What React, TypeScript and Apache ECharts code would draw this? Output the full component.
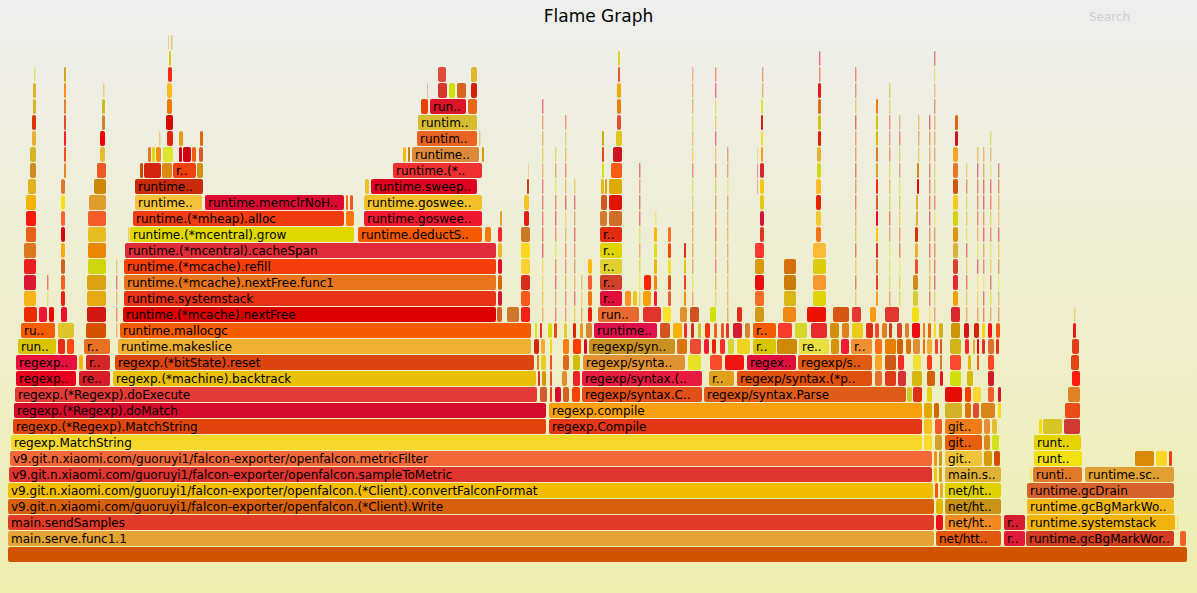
import React, { useEffect, useRef } from 'react';
import * as echarts from 'echarts';

type Frame = [number, number, number, string];
type Minor = [number, number, number];
type Tower = [number, number, number, number];

// total samples and stack depth
const TOTAL_SAMPLES = 1180;
const MAX_DEPTH = 33;
const MINOR_NAME = 'runtime.memmove';

// labeled frames: [depth, startSample, endSample, function]
const frames: Frame[] = [
  [0, 0, 1180, ''],
  [1, 0, 927, 'main.serve.func1.1'],
  [1, 928, 994, 'net/http.(*conn).serve'],
  [1, 996, 1018, 'runtime.mcall'],
  [1, 1018, 1167, 'runtime.gcBgMarkWorker'],
  [2, 0, 927, 'main.sendSamples'],
  [2, 937, 994, 'net/http.serverHandler.ServeHTTP'],
  [2, 996, 1018, 'runtime.park_m'],
  [2, 1019, 1168, 'runtime.systemstack'],
  [3, 0, 927, 'v9.git.n.xiaomi.com/guoruyi1/falcon-exporter/openfalcon.(*Client).Write'],
  [3, 937, 994, 'net/http.(*ServeMux).ServeHTTP'],
  [3, 1019, 1167, 'runtime.gcBgMarkWorker.func2'],
  [4, 0, 926, 'v9.git.n.xiaomi.com/guoruyi1/falcon-exporter/openfalcon.(*Client).convertFalconFormat'],
  [4, 937, 994, 'net/http.HandlerFunc.ServeHTTP'],
  [4, 1019, 1167, 'runtime.gcDrain'],
  [5, 1, 925, 'v9.git.n.xiaomi.com/guoruyi1/falcon-exporter/openfalcon.sampleToMetric'],
  [5, 937, 994, 'main.serveMetrics'],
  [5, 1025, 1075, 'runtime.markroot'],
  [5, 1077, 1167, 'runtime.scanobject'],
  [6, 2, 925, 'v9.git.n.xiaomi.com/guoruyi1/falcon-exporter/openfalcon.metricFilter'],
  [6, 937, 975, 'git.n.xiaomi.com/prometheus/client_golang/prometheus.(*Registry).Gather'],
  [6, 1026, 1075, 'runtime.markroot.func1'],
  [7, 3, 915, 'regexp.MatchString'],
  [7, 937, 975, 'git.n.xiaomi.com/prometheus/client_golang/prometheus.(*Registry).Gather.func1'],
  [7, 1026, 1074, 'runtime.scanstack'],
  [8, 5, 539, 'regexp.(*Regexp).MatchString'],
  [8, 541, 915, 'regexp.Compile'],
  [8, 937, 975, 'git.n.xiaomi.com/prometheus/client_golang/prometheus.processMetric'],
  [9, 6, 539, 'regexp.(*Regexp).doMatch'],
  [9, 541, 915, 'regexp.compile'],
  [10, 7, 530, 'regexp.(*Regexp).doExecute'],
  [10, 574, 695, 'regexp/syntax.Compile'],
  [10, 696, 899, 'regexp/syntax.Parse'],
  [11, 8, 69, 'regexp.(*Regexp).backtrack'],
  [11, 71, 103, 'regexp.(*Regexp).get'],
  [11, 105, 529, 'regexp.(*machine).backtrack'],
  [11, 574, 695, 'regexp/syntax.(*compiler).compile'],
  [11, 701, 727, 'regexp/syntax.(*parser).op'],
  [11, 729, 865, 'regexp/syntax.(*parser).push'],
  [12, 8, 70, 'regexp.(*bitState).push'],
  [12, 78, 103, 'runtime.makeslice'],
  [12, 107, 527, 'regexp.(*bitState).reset'],
  [12, 575, 678, 'regexp/syntax.(*compiler).init'],
  [12, 739, 789, 'regexp.onePassCopy'],
  [12, 790, 865, 'regexp/syntax.(*parser).maybeConcat'],
  [13, 10, 49, 'runtime.growslice'],
  [13, 76, 103, 'runtime.newobject'],
  [13, 110, 524, 'runtime.makeslice'],
  [13, 581, 668, 'regexp/syntax.(*compiler).inst'],
  [13, 745, 769, 'runtime.growslice'],
  [13, 791, 822, 'regexp/syntax.(*parser).newRegexp'],
  [13, 843, 865, 'runtime.convT2E'],
  [14, 13, 48, 'runtime.mallocgc'],
  [14, 112, 524, 'runtime.mallocgc'],
  [14, 586, 650, 'runtime.growslice'],
  [14, 745, 769, 'runtime.mallocgc'],
  [15, 115, 489, 'runtime.(*mcache).nextFree'],
  [15, 590, 632, 'runtime.mallocgc'],
  [16, 116, 489, 'runtime.systemstack'],
  [16, 592, 615, 'runtime.(*mcache).nextFree'],
  [17, 116, 489, 'runtime.(*mcache).nextFree.func1'],
  [17, 592, 615, 'runtime.systemstack'],
  [18, 116, 489, 'runtime.(*mcache).refill'],
  [18, 592, 615, 'runtime.(*mcache).nextFree.func1'],
  [19, 117, 489, 'runtime.(*mcentral).cacheSpan'],
  [19, 592, 615, 'runtime.(*mcache).refill'],
  [20, 122, 347, 'runtime.(*mcentral).grow'],
  [20, 350, 475, 'runtime.deductSweepCredit'],
  [20, 592, 615, 'runtime.(*mcentral).cacheSpan'],
  [21, 125, 337, 'runtime.(*mheap).alloc'],
  [21, 356, 475, 'runtime.gosweepone'],
  [22, 127, 195, 'runtime.(*mheap).alloc.func1'],
  [22, 197, 337, 'runtime.memclrNoHeapPointers'],
  [22, 356, 475, 'runtime.gosweepone.func1'],
  [23, 127, 196, 'runtime.(*mheap).alloc_m'],
  [23, 363, 470, 'runtime.sweepone'],
  [24, 165, 189, 'runtime.(*mheap).reclaim'],
  [24, 385, 475, 'runtime.(*mspan).sweep'],
  [25, 404, 472, 'runtime.(*mheap).freeSpan'],
  [26, 409, 470, 'runtime.(*mheap).freeSpan.func1'],
  [27, 410, 470, 'runtime.(*mheap).freeSpanLocked'],
  [28, 422, 459, 'runtime.(*mheap).coalesce'],
];

// small unlabeled frames: [depth, startSample, endSample]
const minorFrames: Minor[] = [
  [1, 1172, 1179],
  [2, 928, 936], [2, 1169, 1171],
  [3, 928, 936],
  [4, 927, 931], [4, 932, 936],
  [5, 926, 930], [5, 931, 935], [5, 1022, 1024],
  [6, 926, 930], [6, 931, 935], [6, 976, 985], [6, 986, 993], [6, 1127, 1147], [6, 1148, 1160], [6, 1161, 1165],
  [7, 916, 925], [7, 927, 935], [7, 976, 983], [7, 984, 992],
  [8, 916, 925], [8, 927, 935], [8, 976, 983], [8, 984, 990], [8, 1031, 1035], [8, 1035, 1055], [8, 1056, 1073],
  [9, 916, 925], [9, 926, 932], [9, 937, 955], [9, 957, 964], [9, 965, 972], [9, 973, 988], [9, 990, 994], [9, 1057, 1073],
  [10, 532, 540], [10, 542, 545], [10, 547, 554], [10, 555, 562], [10, 564, 573], [10, 899, 905], [10, 905, 915],
  [10, 919, 925], [10, 937, 955], [10, 957, 964], [10, 965, 974], [10, 980, 987], [10, 990, 994], [10, 1060, 1073],
  [11, 530, 533], [11, 534, 539], [11, 542, 545], [11, 554, 560], [11, 565, 573], [11, 867, 875], [11, 877, 889],
  [11, 890, 899], [11, 904, 915], [11, 919, 928], [11, 932, 936], [11, 942, 954], [11, 959, 966], [11, 980, 987], [11, 1064, 1073],
  [12, 71, 76], [12, 529, 532], [12, 533, 539], [12, 542, 545], [12, 555, 562], [12, 565, 573], [12, 680, 694],
  [12, 702, 715], [12, 717, 737], [12, 867, 875], [12, 877, 889], [12, 890, 897], [12, 905, 914], [12, 919, 925],
  [12, 932, 935], [12, 942, 954], [12, 960, 964], [12, 969, 972], [12, 980, 987], [12, 1063, 1072],
  [13, 50, 58], [13, 59, 67], [13, 526, 532], [13, 533, 538], [13, 542, 545], [13, 555, 562], [13, 565, 574],
  [13, 576, 580], [13, 669, 680], [13, 682, 694], [13, 696, 702], [13, 704, 709], [13, 712, 718], [13, 720, 727],
  [13, 729, 743], [13, 769, 790], [13, 823, 832], [13, 833, 842], [13, 867, 875], [13, 877, 889], [13, 889, 896],
  [13, 898, 904], [13, 905, 913], [13, 915, 918], [13, 919, 925], [13, 927, 931], [13, 932, 935], [13, 942, 954],
  [13, 957, 962], [13, 965, 968], [13, 969, 972], [13, 974, 978], [13, 980, 987], [13, 988, 992], [13, 1064, 1072],
  [14, 50, 67], [14, 78, 99], [14, 527, 530], [14, 532, 535], [14, 540, 545], [14, 546, 550], [14, 556, 560],
  [14, 565, 569], [14, 572, 576], [14, 578, 585], [14, 652, 663], [14, 665, 675], [14, 676, 680], [14, 683, 687],
  [14, 690, 694], [14, 697, 703], [14, 706, 710], [14, 713, 717], [14, 718, 722], [14, 725, 735], [14, 737, 743],
  [14, 770, 785], [14, 787, 800], [14, 803, 820], [14, 822, 832], [14, 834, 842], [14, 844, 856], [14, 858, 866],
  [14, 867, 872], [14, 874, 880], [14, 881, 885], [14, 889, 895], [14, 897, 902], [14, 904, 913], [14, 915, 918],
  [14, 920, 924], [14, 926, 929], [14, 931, 936], [14, 943, 953], [14, 956, 962], [14, 966, 972], [14, 974, 978],
  [14, 980, 985], [14, 988, 993], [14, 1065, 1069],
  [15, 16, 30], [15, 31, 40], [15, 41, 47], [15, 53, 60], [15, 79, 99], [15, 489, 495], [15, 499, 512], [15, 513, 523],
  [15, 635, 654], [15, 655, 664], [15, 672, 680], [15, 682, 692], [15, 702, 709], [15, 729, 735], [15, 747, 757],
  [15, 775, 789], [15, 799, 819], [15, 825, 842], [15, 844, 854], [15, 862, 869], [15, 877, 892], [15, 904, 912],
  [15, 943, 953], [15, 1066, 1068],
  [16, 617, 624], [16, 625, 630], [16, 635, 644], [17, 636, 644],
  [20, 120, 122], [20, 477, 484],
  [21, 338, 347], [22, 338, 341], [22, 342, 346], [23, 357, 362],
  [21, 592, 600], [21, 601, 615], [22, 593, 600], [22, 601, 615], [23, 593, 597], [23, 597, 600], [23, 601, 615],
  [24, 594, 597], [24, 603, 615], [25, 594, 597], [25, 605, 615], [26, 594, 597], [26, 608, 615], [27, 609, 614],
  [28, 609, 614], [29, 609, 614], [30, 610, 613], [31, 610, 613],
  [24, 132, 136], [24, 136, 154], [24, 154, 165], [24, 189, 196],
  [25, 140, 144], [25, 144, 148], [25, 148, 154], [25, 155, 166], [25, 171, 175], [25, 175, 184], [25, 184, 189], [25, 191, 196],
  [26, 151, 153], [26, 159, 166], [26, 171, 176], [26, 192, 196],
  [27, 158, 166], [28, 159, 165], [29, 159, 165], [30, 160, 165], [31, 161, 164], [32, 160, 161], [32, 163, 165],
  [25, 395, 399], [25, 400, 403], [25, 474, 477], [26, 471, 473], [28, 413, 421], [28, 460, 470],
  [29, 419, 420], [29, 430, 440], [29, 441, 448], [29, 449, 459], [29, 463, 470], [30, 430, 439], [30, 463, 470],
];

// thin repeated stacks: [startSample, endSample, fromDepth, toDepth]
const towers: Tower[] = [
  [16, 29, 16, 19], [18, 29, 20, 22], [20, 29, 23, 23], [22, 29, 24, 25], [24, 29, 26, 27], [25, 29, 28, 29], [26, 28, 30, 30],
  [39, 41, 16, 17],
  [53, 58, 16, 23], [56, 59, 24, 30],
  [79, 99, 16, 17], [80, 99, 18, 21], [81, 99, 22, 22], [86, 99, 23, 23], [89, 99, 24, 24], [92, 98, 25, 26], [94, 98, 27, 28], [95, 97, 29, 29],
  [108, 110, 14, 18],
  [490, 495, 16, 20], [492, 495, 21, 21],
  [513, 523, 16, 20], [516, 522, 21, 22], [519, 522, 23, 23], [520, 521, 24, 24],
  [534, 536, 15, 28], [547, 549, 15, 25], [557, 559, 15, 27], [566, 568, 15, 23], [573, 575, 15, 17], [580, 585, 15, 18],
  [631, 633, 16, 24], [646, 650, 16, 20], [647, 649, 21, 21], [660, 664, 16, 20], [676, 679, 16, 19],
  [684, 686, 16, 30], [707, 709, 16, 30], [719, 721, 15, 25],
  [747, 757, 16, 19], [752, 757, 20, 24], [753, 756, 25, 28], [754, 756, 29, 30], [749, 750, 23, 25],
  [776, 789, 16, 18],
  [805, 819, 16, 19], [808, 814, 20, 23], [809, 814, 24, 25], [810, 814, 26, 29], [811, 813, 30, 31],
  [847, 849, 16, 30], [868, 871, 16, 28], [881, 883, 16, 29], [891, 893, 16, 27],
  [905, 911, 16, 17], [907, 911, 18, 20], [908, 911, 21, 22], [909, 912, 23, 24], [910, 912, 25, 27],
  [921, 923, 15, 27], [926, 928, 15, 31],
  [945, 951, 16, 25], [947, 951, 26, 27],
  [958, 960, 15, 24], [969, 971, 15, 25], [975, 977, 15, 25], [982, 984, 15, 26], [990, 992, 15, 24],
];

// style: colours of the labeled frames, keyed by "depth|function"
const frameColors: Record<string, string> = {
  '0|': '#d35400',
  '1|main.serve.func1.1': '#e5a336',
  '1|net/http.(*conn).serve': '#e0580e',
  '1|runtime.mcall': '#e01a3a',
  '1|runtime.gcBgMarkWorker': '#d23c22',
  '2|main.sendSamples': '#e23c28',
  '2|net/http.serverHandler.ServeHTTP': '#f08a22',
  '2|runtime.park_m': '#d41e30',
  '2|runtime.systemstack': '#f0b20c',
  '3|v9.git.n.xiaomi.com/guoruyi1/falcon-exporter/openfalcon.(*Client).Write': '#d8600c',
  '3|net/http.(*ServeMux).ServeHTTP': '#c89214',
  '3|runtime.gcBgMarkWorker.func2': '#f2b818',
  '4|v9.git.n.xiaomi.com/guoruyi1/falcon-exporter/openfalcon.(*Client).convertFalconFormat': '#f2bc00',
  '4|net/http.HandlerFunc.ServeHTTP': '#e0d000',
  '4|runtime.gcDrain': '#d6622e',
  '5|v9.git.n.xiaomi.com/guoruyi1/falcon-exporter/openfalcon.sampleToMetric': '#e0342e',
  '5|main.serveMetrics': '#e0b034',
  '5|runtime.markroot': '#e07a2a',
  '5|runtime.scanobject': '#e0a032',
  '6|v9.git.n.xiaomi.com/guoruyi1/falcon-exporter/openfalcon.metricFilter': '#f26838',
  '6|git.n.xiaomi.com/prometheus/client_golang/prometheus.(*Registry).Gather': '#f0c43a',
  '6|runtime.markroot.func1': '#f2e010',
  '7|regexp.MatchString': '#f6d82a',
  '7|git.n.xiaomi.com/prometheus/client_golang/prometheus.(*Registry).Gather.func1': '#e8600e',
  '7|runtime.scanstack': '#e4d404',
  '8|regexp.(*Regexp).MatchString': '#e2460e',
  '8|regexp.Compile': '#e43616',
  '8|git.n.xiaomi.com/prometheus/client_golang/prometheus.processMetric': '#f07c18',
  '9|regexp.(*Regexp).doMatch': '#d30c2c',
  '9|regexp.compile': '#f9a010',
  '10|regexp.(*Regexp).doExecute': '#e43a38',
  '10|regexp/syntax.Compile': '#e24e18',
  '10|regexp/syntax.Parse': '#df5c18',
  '11|regexp.(*Regexp).backtrack': '#e80020',
  '11|regexp.(*Regexp).get': '#d81c28',
  '11|regexp.(*machine).backtrack': '#e8c00c',
  '11|regexp/syntax.(*compiler).compile': '#e81c40',
  '11|regexp/syntax.(*parser).op': '#e0a01c',
  '11|regexp/syntax.(*parser).push': '#e0500e',
  '12|regexp.(*bitState).push': '#e8103c',
  '12|runtime.makeslice': '#d42828',
  '12|regexp.(*bitState).reset': '#dc4410',
  '12|regexp/syntax.(*compiler).init': '#e09232',
  '12|regexp.onePassCopy': '#e0103c',
  '12|regexp/syntax.(*parser).maybeConcat': '#e05a10',
  '13|runtime.growslice': '#d8c400',
  '13|runtime.newobject': '#e87020',
  '13|runtime.makeslice': '#eeb032',
  '13|regexp/syntax.(*compiler).inst': '#c89020',
  '13|regexp/syntax.(*parser).newRegexp': '#e8e040',
  '13|runtime.convT2E': '#f09030',
  '14|runtime.mallocgc': '#f45c00',
  '14|runtime.growslice': '#e0104a',
  '15|runtime.(*mcache).nextFree': '#dc0000',
  '15|runtime.mallocgc': '#e86a30',
  '16|runtime.systemstack': '#e83218',
  '16|runtime.(*mcache).nextFree': '#e0103c',
  '17|runtime.(*mcache).nextFree.func1': '#e8741e',
  '17|runtime.systemstack': '#d0402a',
  '18|runtime.(*mcache).refill': '#f5400e',
  '18|runtime.(*mcache).nextFree.func1': '#e0d030',
  '19|runtime.(*mcentral).cacheSpan': '#e02c38',
  '19|runtime.(*mcache).refill': '#e0d400',
  '20|runtime.(*mcentral).grow': '#e0d800',
  '20|runtime.deductSweepCredit': '#f55a00',
  '20|runtime.(*mcentral).cacheSpan': '#e02c10',
  '21|runtime.(*mheap).alloc': '#f03c10',
  '21|runtime.gosweepone': '#f01830',
  '22|runtime.(*mheap).alloc.func1': '#f5c23a',
  '22|runtime.memclrNoHeapPointers': '#dc0a32',
  '22|runtime.gosweepone.func1': '#f2c028',
  '23|runtime.(*mheap).alloc_m': '#c82a0a',
  '23|runtime.sweepone': '#e00020',
  '24|runtime.(*mheap).reclaim': '#f04010',
  '24|runtime.(*mspan).sweep': '#ee3030',
  '25|runtime.(*mheap).freeSpan': '#dc8a3a',
  '26|runtime.(*mheap).freeSpan.func1': '#e86420',
  '27|runtime.(*mheap).freeSpanLocked': '#d8bc30',
  '28|runtime.(*mheap).coalesce': '#dc1428',
};

function frac(v: number) {
  return v - Math.floor(v);
}

// flamegraph "hot" palette, picked deterministically per frame
function hotColor(seed: number) {
  const v1 = frac(Math.sin(seed * 127.1 + 11.3) * 43758.5453);
  const v2 = frac(Math.sin(seed * 311.7 + 3.1) * 43758.5453);
  const v3 = frac(Math.sin(seed * 74.7 + 7.7) * 43758.5453);
  const r = 205 + Math.floor(50 * v3);
  const g = Math.floor(230 * v1);
  const b = Math.floor(55 * v2);
  return `rgb(${r},${g},${b})`;
}

interface Node {
  depth: number;
  start: number;
  end: number;
  name: string;
  color: string;
}

function buildNodes(): Node[] {
  const nodes: Node[] = [];
  const add = (depth: number, start: number, end: number, name: string) => {
    const color = frameColors[`${depth}|${name}`] || hotColor(depth * 1009 + start * 7 + end);
    nodes.push({ depth, start, end, name, color });
  };
  frames.forEach(([d, s, e, n]) => add(d, s, e, n));
  minorFrames.forEach(([d, s, e]) => add(d, s, e, MINOR_NAME));
  towers.forEach(([s, e, a, b]) => {
    for (let d = a; d <= b; d++) add(d, s, e, MINOR_NAME);
  });
  return nodes;
}

export default function App() {
  const ref = useRef<HTMLDivElement>(null);

  useEffect(() => {
    if (!ref.current) return;
    const chart = echarts.init(ref.current, undefined, { renderer: 'svg' });
    const nodes = buildNodes();
    const FONT_W = 12 * 0.59;

    chart.setOption({
      animation: false,
      backgroundColor: new echarts.graphic.LinearGradient(0, 0, 0, 1, [
        { offset: 0, color: '#eeeeee' },
        { offset: 1, color: '#eeeeb0' },
      ]),
      title: {
        text: 'Flame Graph',
        left: 'center',
        top: 2,
        textStyle: { fontSize: 17, fontWeight: 'normal', color: '#000', fontFamily: '"DejaVu Sans", Verdana, sans-serif' },
      },
      graphic: [
        {
          type: 'text',
          left: 1089,
          top: 11,
          style: { text: 'Search', fill: '#cfcfcf', fontSize: 12, fontFamily: '"DejaVu Sans", Verdana, sans-serif' },
        },
      ],
      grid: { left: 8, right: 9, top: 35, bottom: 30 },
      xAxis: { type: 'value', min: 0, max: TOTAL_SAMPLES, show: false },
      yAxis: { type: 'value', min: 0, max: MAX_DEPTH, show: false },
      series: [
        {
          type: 'custom',
          clip: false,
          encode: { x: [1, 2], y: 0 },
          data: nodes.map((n) => ({ value: [n.depth, n.start, n.end], name: n.name })),
          renderItem: (params: any, api: any) => {
            const node = nodes[params.dataIndex];
            const depth = api.value(0) as number;
            const start = api.value(1) as number;
            const end = api.value(2) as number;
            const bl = api.coord([start, depth]);
            const tr = api.coord([end, depth + 1]);
            const w = tr[0] - bl[0];
            const x = bl[0];
            const y = tr[1];
            const h = bl[1] - tr[1] - 1;
            const rw = w >= 3 ? w - 1 : Math.max(w - 0.6, 0.8);
            const children: any[] = [
              {
                type: 'rect',
                shape: { x, y, width: rw, height: h, r: 2 },
                style: { fill: node.color, opacity: w < 3 ? 0.55 : 1 },
              },
            ];
            const chars = Math.floor(w / FONT_W);
            if (chars >= 3 && node.name) {
              const text = node.name.length > chars ? node.name.slice(0, chars - 2) + '..' : node.name;
              children.push({
                type: 'text',
                style: {
                  x: x + 3,
                  y: y + h / 2 + 0.5,
                  text,
                  fill: '#000',
                  fontSize: 12,
                  fontFamily: '"DejaVu Sans", Verdana, sans-serif',
                  align: 'left',
                  verticalAlign: 'middle',
                  textAlign: 'left',
                  textVerticalAlign: 'middle',
                },
              });
            }
            return { type: 'group', children };
          },
        },
      ],
    });

    return () => chart.dispose();
  }, []);

  return <div ref={ref} style={{ position: 'fixed', left: 0, top: 0, width: 1197, height: 593 }} />;
}
